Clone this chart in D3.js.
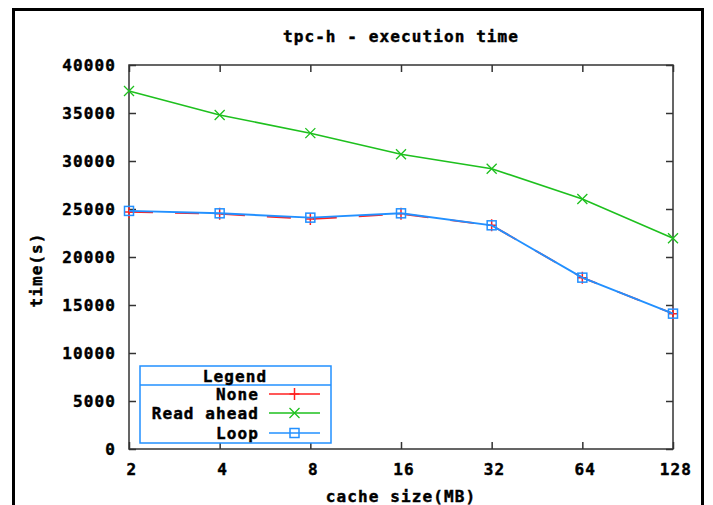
<!DOCTYPE html>
<html>
<head>
<meta charset="utf-8">
<script src="https://cdn.jsdelivr.net/npm/d3@7/dist/d3.min.js"></script>
<style>
  html, body { margin: 0; padding: 0; background: #fff; }
  svg text { font-family: "DejaVu Sans Mono", "Liberation Mono", monospace; font-weight: bold; font-size: 16px; letter-spacing: 1.1px; fill: #000; stroke: #000; stroke-width: 0.45px; }
</style>
</head>
<body>
<svg id="chart" width="713" height="505"></svg>
<script>
const categories = ["2", "4", "8", "16", "32", "64", "128"];
const noneValues = [24700, 24500, 23950, 24500, 23300, 17850, 14100];
const readAheadValues = [37300, 34800, 32900, 30700, 29200, 26050, 21950];
const loopValues = [24800, 24550, 24100, 24550, 23300, 17850, 14100];
const yTicks = [0, 5000, 10000, 15000, 20000, 25000, 30000, 35000, 40000];
const seriesNames = ["None", "Read ahead", "Loop"];
const titleText = "tpc-h - execution time";
const xLabel = "cache size(MB)";
const yLabel = "time(s)";

const svg = d3.select("#chart");
const W = 713, H = 505;
const m = { left: 129, right: 673, top: 65, bottom: 449 };

// outer frame
svg.append("path")
  .attr("d", `M13.5,${H + 5} V9.5 H702.5 V${H + 5}`)
  .attr("fill", "none").attr("stroke", "#000").attr("stroke-width", 3);

const x = d3.scalePoint().domain(categories).range([m.left, m.right]);
const y = d3.scaleLinear().domain([0, 40000]).range([m.bottom, m.top]);

const axisColor = "#333";

function styleAxis(g) {
  g.select(".domain").remove();
  g.selectAll(".tick line").attr("stroke", axisColor).attr("stroke-width", 1.5);
}

// left axis
svg.append("g").attr("transform", `translate(${m.left},0)`)
  .call(d3.axisLeft(y).tickValues(yTicks).tickSizeInner(-7).tickSizeOuter(0).tickPadding(13).tickFormat(d3.format("d")))
  .call(styleAxis)
  .call(g => g.selectAll("text").attr("font-family", null).attr("font-size", null).attr("fill", "#000").attr("dy", "0.36em"));
// right axis (mirror)
svg.append("g").attr("transform", `translate(${m.right},0)`)
  .call(d3.axisRight(y).tickValues(yTicks).tickSizeInner(-7).tickSizeOuter(0).tickFormat(""))
  .call(styleAxis);
// bottom axis
svg.append("g").attr("transform", `translate(0,${m.bottom})`)
  .call(d3.axisBottom(x).tickSizeInner(-7).tickSizeOuter(0).tickPadding(15))
  .call(styleAxis)
  .call(g => g.selectAll("text").attr("font-family", null).attr("font-size", null).attr("fill", "#000").attr("dx", "0.15em"));
// top axis (mirror)
svg.append("g").attr("transform", `translate(0,${m.top})`)
  .call(d3.axisTop(x).tickSizeInner(-7).tickSizeOuter(0).tickFormat(""))
  .call(styleAxis);

// plot frame
svg.append("rect")
  .attr("x", m.left).attr("y", m.top)
  .attr("width", m.right - m.left).attr("height", m.bottom - m.top)
  .attr("fill", "none").attr("stroke", axisColor).attr("stroke-width", 1.5);

// title and labels
svg.append("text").attr("x", 401).attr("y", 42).attr("text-anchor", "middle").text(titleText);
svg.append("text").attr("x", 401).attr("y", 502).attr("text-anchor", "middle").text(xLabel);
svg.append("text").attr("transform", "translate(42,270) rotate(-90)").attr("text-anchor", "middle").text(yLabel);

const colors = ["#ff2020", "#1ec01e", "#2290ff"];
const allSeries = [noneValues, readAheadValues, loopValues];
const line = d3.line().x((d, i) => x(categories[i])).y(d => y(d));

function drawMarker(g, type, cx, cy, color) {
  if (type === 0) {
    g.append("path").attr("d", `M${cx - 5},${cy} H${cx + 5} M${cx},${cy - 6} V${cy + 6}`)
      .attr("stroke", color).attr("stroke-width", 1.5).attr("fill", "none");
  } else if (type === 1) {
    g.append("path").attr("d", `M${cx - 5},${cy - 5} L${cx + 5},${cy + 5} M${cx - 5},${cy + 5} L${cx + 5},${cy - 5}`)
      .attr("stroke", color).attr("stroke-width", 1.3).attr("fill", "none");
  } else {
    g.append("rect").attr("x", cx - 4.5).attr("y", cy - 4.5).attr("width", 9).attr("height", 9)
      .attr("stroke", color).attr("stroke-width", 1.5).attr("fill", "none");
  }
}

allSeries.forEach((vals, si) => {
  const g = svg.append("g");
  g.append("path").datum(vals).attr("d", line)
    .attr("fill", "none").attr("stroke", colors[si]).attr("stroke-width", si === 0 ? 1.8 : (si === 2 ? 1.9 : 1.6))
    .attr("stroke-dasharray", si === 0 ? "24,22" : null);
  vals.forEach((v, i) => drawMarker(g, si, x(categories[i]), y(v), colors[si]));
});

// legend
const lg = svg.append("g");
const lx0 = 140, ly0 = 366, lx1 = 331, ly1 = 443, lsep = 385;
lg.append("rect").attr("x", lx0).attr("y", ly0).attr("width", lx1 - lx0).attr("height", ly1 - ly0)
  .attr("fill", "#fff").attr("stroke", colors[2]).attr("stroke-width", 1.5);
lg.append("line").attr("x1", lx0).attr("x2", lx1).attr("y1", lsep).attr("y2", lsep)
  .attr("stroke", colors[2]).attr("stroke-width", 1.5);
lg.append("text").attr("x", 235).attr("y", 382).attr("text-anchor", "middle").text("Legend");
const legendY = [394, 413, 433];
seriesNames.forEach((name, i) => {
  lg.append("text").attr("x", 259).attr("y", legendY[i]).attr("dy", "0.36em").attr("text-anchor", "end").text(name);
  lg.append("line").attr("x1", 269).attr("x2", 320).attr("y1", legendY[i]).attr("y2", legendY[i])
    .attr("stroke", colors[i]).attr("stroke-width", 1.6);
  drawMarker(lg, i, 294.5, legendY[i], colors[i]);
});
</script>
</body>
</html>
